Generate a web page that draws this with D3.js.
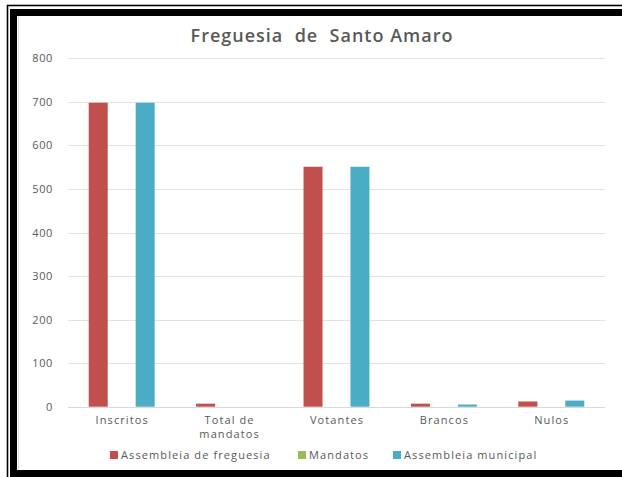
<!DOCTYPE html>
<html>
<head>
<meta charset="utf-8">
<script src="https://cdn.jsdelivr.net/npm/d3@7"></script>
<style>
  html, body { margin: 0; padding: 0; background: #ffffff; }
  svg { display: block; }
  text { font-family: "Open Sans", "DejaVu Sans", sans-serif; }
</style>
</head>
<body>
<script>
const title = "Freguesia  de  Santo Amaro";
const categories = ["Inscritos", "Total de mandatos", "Votantes", "Brancos", "Nulos"];
const seriesNames = ["Assembleia de freguesia", "Mandatos", "Assembleia municipal"];
const seriesColors = ["#c0504d", "#9bbb59", "#4bacc6"];
const freguesiaValues = [698, 7, 551, 7, 12];
const mandatosValues = [0, 0, 0, 0, 0];
const municipalValues = [698, 0, 551, 5, 14];
const yTicks = [0, 100, 200, 300, 400, 500, 600, 700, 800];

const seriesValues = [freguesiaValues, mandatosValues, municipalValues];

const W = 622, H = 477;
const svg = d3.select("body").append("svg").attr("width", W).attr("height", H);

// frame
svg.append("rect").attr("x", 0).attr("y", 0).attr("width", W).attr("height", H).attr("fill", "#fff");
svg.append("rect").attr("x", 7.5).attr("y", 5.5).attr("width", W + 10).attr("height", H + 10)
  .attr("fill", "none").attr("stroke", "#000").attr("stroke-width", 1.6);
svg.append("rect").attr("x", 13.5).attr("y", 12.5).attr("width", W + 10).attr("height", 461)
  .attr("fill", "none").attr("stroke", "#000").attr("stroke-width", 7);
svg.append("line").attr("x1", 18.5).attr("x2", 18.5).attr("y1", 16).attr("y2", 470)
  .attr("stroke", "#e0e0e0").attr("stroke-width", 1);

const plot = { left: 68, right: 605, top: 58.3, bottom: 406.7 };

const x = d3.scaleBand().domain(categories).range([plot.left, plot.right]).paddingInner(0).paddingOuter(0);
const band = x.bandwidth();
const xs = d3.scaleBand().domain(seriesNames).range([band * 0.193, band * 0.807]).paddingInner(0.19).paddingOuter(0);
const y = d3.scaleLinear().domain([0, 800]).range([plot.bottom, plot.top]);

// gridlines
svg.append("g").selectAll("line").data(yTicks).join("line")
  .attr("x1", plot.left).attr("x2", plot.right)
  .attr("y1", d => Math.round(y(d)) + 0.5).attr("y2", d => Math.round(y(d)) + 0.5)
  .attr("stroke", "#e3e3e3").attr("stroke-width", 1);

// y labels
const yAxis = d3.axisLeft(y).tickValues(yTicks).tickSize(0).tickPadding(0);
const gy = svg.append("g").attr("transform", `translate(53,0)`).call(yAxis);
gy.select(".domain").remove();
gy.selectAll("text").attr("font-size", 11).attr("fill", "#595959").attr("dy", "0.32em")
  .style("font-family", "'Open Sans', sans-serif").style("letter-spacing", "0.6px");

// bars
seriesNames.forEach((s, si) => {
  svg.append("g").selectAll("rect").data(categories).join("rect")
    .attr("x", c => x(c) + xs(s))
    .attr("width", xs.bandwidth())
    .attr("y", (c, i) => y(seriesValues[si][i]))
    .attr("height", (c, i) => y(0) - y(seriesValues[si][i]))
    .attr("fill", seriesColors[si]);
});

// baseline
svg.append("line").attr("x1", plot.left).attr("x2", plot.right)
  .attr("y1", Math.round(y(0)) + 0.5).attr("y2", Math.round(y(0)) + 0.5)
  .attr("stroke", "#d9d9d9").attr("stroke-width", 1);

// category labels
const gx = svg.append("g");
categories.forEach(c => {
  const words = c.split(" ");
  const lines = c.length > 12 ? [words.slice(0, -1).join(" "), words[words.length - 1]] : [c];
  const cx = x(c) + band / 2 + 0.5;
  lines.forEach((l, i) => {
    gx.append("text").attr("x", cx).attr("y", 424 + i * 14)
      .attr("text-anchor", "middle").attr("font-size", 11).attr("fill", "#595959")
      .style("letter-spacing", "1.1px").text(l);
  });
});

// title
svg.append("text").attr("x", 322).attr("y", 42).attr("text-anchor", "middle")
  .attr("font-size", 18).attr("font-weight", 600).attr("fill", "#595959")
  .style("letter-spacing", "1px")
  .attr("xml:space", "preserve").text(title);

// legend
const legendX = [110, 298, 393];
const lg = svg.append("g");
seriesNames.forEach((s, i) => {
  lg.append("rect").attr("x", legendX[i]).attr("y", 451).attr("width", 8).attr("height", 8).attr("fill", seriesColors[i]);
  lg.append("text").attr("x", legendX[i] + 11).attr("y", 459).attr("font-size", 11).attr("fill", "#595959")
    .style("letter-spacing", "1.1px").text(s);
});
</script>
</body>
</html>
